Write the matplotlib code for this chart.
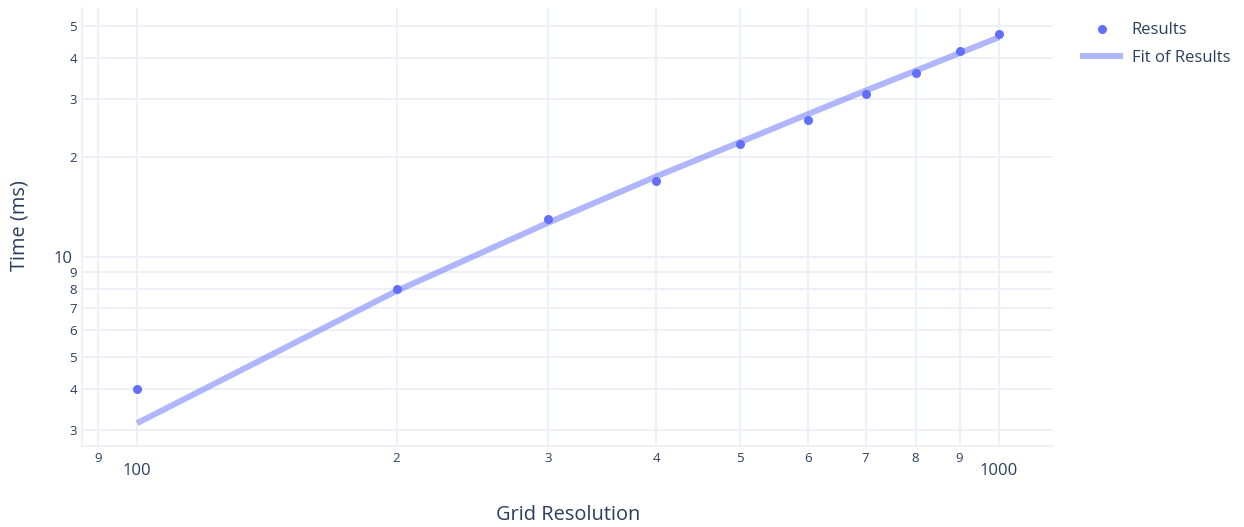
import matplotlib
matplotlib.use("Agg")
import matplotlib.pyplot as plt
from matplotlib.ticker import FixedLocator, FixedFormatter

plt.rcParams['font.family'] = ['Open Sans', 'DejaVu Sans']

# ---- data ----
grid_resolution = [100, 200, 300, 400, 500, 600, 700, 800, 900, 1000]
time_ms = [4, 8, 13, 17, 22, 26, 31, 36, 42, 47]
fit_time_ms = [3.15, 7.9, 12.7, 17.5, 22.2, 27.0, 31.8, 36.5, 41.3, 46.1]

x_major_ticks = [100, 1000]
x_major_labels = ['100', '1000']
x_minor_ticks = [90, 200, 300, 400, 500, 600, 700, 800, 900]
x_minor_labels = ['9', '2', '3', '4', '5', '6', '7', '8', '9']

y_major_ticks = [10]
y_major_labels = ['10']
y_minor_ticks = [3, 4, 5, 6, 7, 8, 9, 20, 30, 40, 50]
y_minor_labels = ['3', '4', '5', '6', '7', '8', '9', '2', '3', '4', '5']

x_range = (86.3, 1155)
y_range = (2.687, 56.5)

# ---- style ----
W, H = 1244, 527
TXT = '#2a3f5f'
GRID = '#EBF0F8'
BLUE = '#636EFA'

fig = plt.figure(figsize=(W / 100, H / 100), dpi=100)
ax = fig.add_axes([82 / W, 1 - 446 / H, (1053 - 82) / W, (446 - 8) / H])
ax.set_xscale('log')
ax.set_yscale('log')
ax.set_xlim(*x_range)
ax.set_ylim(*y_range)

ax.plot(grid_resolution, fit_time_ms, color=BLUE, alpha=0.5, lw=4.3,
        solid_capstyle='butt', label='Fit of Results', zorder=3)
ax.plot(grid_resolution, time_ms, linestyle='none', marker='o', markersize=6.5,
        color=BLUE, markeredgewidth=0, label='Results', zorder=4)

ax.xaxis.set_major_locator(FixedLocator(x_major_ticks))
ax.xaxis.set_major_formatter(FixedFormatter(x_major_labels))
ax.xaxis.set_minor_locator(FixedLocator(x_minor_ticks))
ax.xaxis.set_minor_formatter(FixedFormatter(x_minor_labels))
ax.yaxis.set_major_locator(FixedLocator(y_major_ticks))
ax.yaxis.set_major_formatter(FixedFormatter(y_major_labels))
ax.yaxis.set_minor_locator(FixedLocator(y_minor_ticks))
ax.yaxis.set_minor_formatter(FixedFormatter(y_minor_labels))

ax.tick_params(axis='x', which='major', length=0, pad=12, labelsize=12, labelcolor=TXT)
ax.tick_params(axis='x', which='minor', length=0, pad=4.5, labelsize=9.5, labelcolor=TXT)
ax.tick_params(axis='y', which='major', length=0, pad=7, labelsize=12, labelcolor=TXT)
ax.tick_params(axis='y', which='minor', length=0, pad=3.5, labelsize=9.5, labelcolor=TXT)

ax.grid(True, which='both', color=GRID, lw=1.3, zorder=0)
ax.set_axisbelow(True)
for s in ['top', 'right']:
    ax.spines[s].set_visible(False)
for s in ['left', 'bottom']:
    ax.spines[s].set_color(GRID)
    ax.spines[s].set_linewidth(1.3)

fig.text(568 / W, 1 - 514.5 / H, 'Grid Resolution', ha='center', va='center',
         fontsize=14.4, color=TXT)
fig.text(20 / W, 1 - 226 / H, 'Time (ms)', ha='center', va='center',
         rotation=90, fontsize=14.4, color=TXT)

handles, labels = ax.get_legend_handles_labels()
order = [1, 0]
leg = fig.legend([handles[i] for i in order], [labels[i] for i in order],
                 loc='upper left', bbox_to_anchor=(1080 / W, 1 - 22.5 / H),
                 frameon=False, fontsize=12, handlelength=2.6, handletextpad=0.5,
                 labelspacing=0.68, borderpad=0, borderaxespad=0)
for t in leg.get_texts():
    t.set_color(TXT)

fig.savefig('out.png', dpi=100, facecolor='white')
